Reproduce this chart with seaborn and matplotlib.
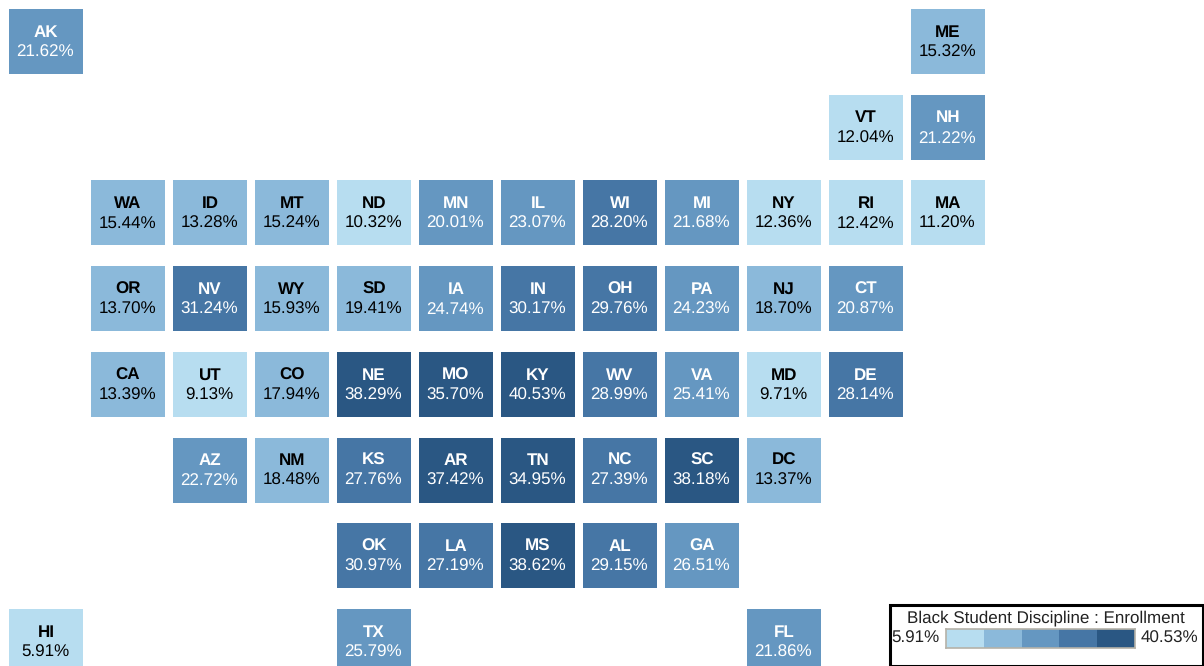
import numpy as np
import pandas as pd
import seaborn as sns
import matplotlib.pyplot as plt
from matplotlib.colors import ListedColormap, BoundaryNorm
from matplotlib.patches import Rectangle

states = ['AK','ME','VT','NH','WA','ID','MT','ND','MN','IL','WI','MI','NY','RI','MA',
          'OR','NV','WY','SD','IA','IN','OH','PA','NJ','CT',
          'CA','UT','CO','NE','MO','KY','WV','VA','MD','DE',
          'AZ','NM','KS','AR','TN','NC','SC','DC',
          'OK','LA','MS','AL','GA','HI','TX','FL']
rates = [21.62,15.32,12.04,21.22,15.44,13.28,15.24,10.32,20.01,23.07,28.20,21.68,12.36,12.42,11.20,
         13.70,31.24,15.93,19.41,24.74,30.17,29.76,24.23,18.70,20.87,
         13.39,9.13,17.94,38.29,35.70,40.53,28.99,25.41,9.71,28.14,
         22.72,18.48,27.76,37.42,34.95,27.39,38.18,13.37,
         30.97,27.19,38.62,29.15,26.51,5.91,25.79,21.86]
grid_col = [0,11,10,11,1,2,3,4,5,6,7,8,9,10,11,
            1,2,3,4,5,6,7,8,9,10,
            1,2,3,4,5,6,7,8,9,10,
            2,3,4,5,6,7,8,9,
            4,5,6,7,8,0,4,9]
grid_row = [0,0,1,1,2,2,2,2,2,2,2,2,2,2,2,
            3,3,3,3,3,3,3,3,3,3,
            4,4,4,4,4,4,4,4,4,4,
            5,5,5,5,5,5,5,5,
            6,6,6,6,6,7,7,7]
palette = ['#B7DDF0','#8BB9DA','#6597C1','#4676A5','#2A5783']
legend_title = 'Black Student Discipline : Enrollment'

W, H = 1204, 666
plt.rcParams['font.family'] = ['Liberation Sans', 'DejaVu Sans']
plt.rcParams['text.hinting'] = 'no_hinting'
plt.rcParams['text.hinting_factor'] = 1

df = pd.DataFrame({'state': states, 'rate': rates, 'col': grid_col, 'row': grid_row})
table = df.pivot(index='row', columns='col', values='rate')

lo, hi = df['rate'].min(), df['rate'].max()
breaks = np.linspace(lo, hi, 6)
cmap = ListedColormap(palette)
norm = BoundaryNorm(breaks, 5, clip=True)

fig = plt.figure(figsize=(W/100, H/100), dpi=100)

def px_axes(x0, y0, x1, y1):
    return fig.add_axes([x0/W, 1-y1/H, (x1-x0)/W, (y1-y0)/H])

# axes runs past the figure edges, the last row is cut off in the original too
pad = 0.2
ax = px_axes(5-pad*82, -1.35-pad*85.7, 989+pad*82, 684.25+pad*85.7)
sns.heatmap(table, ax=ax, cmap=cmap, norm=norm, cbar=False, square=False,
            xticklabels=False, yticklabels=False)
ax.set_xlim(-pad, 12+pad)
ax.set_ylim(8+pad, -pad)
ax.set_xlabel('')
ax.set_ylabel('')

# gaps between tiles are wider between rows than between columns
ax.vlines(np.arange(0, 13), -pad, 8+pad, color='white', lw=8*0.72)
gap = 10.35/85.7
for y in range(9):
    ax.axhspan(y-gap, y+gap, color='white', lw=0)

for _, r in df.iterrows():
    c = 'white' if r['rate'] >= breaks[2] else 'black'
    ax.text(r['col']+0.5, r['row']+0.51-0.117, r['state'], ha='center', va='center',
            fontsize=12, fontweight='bold', color=c)
    ax.text(r['col']+0.49, r['row']+0.51+0.117, '%.2f%%' % r['rate'], ha='center', va='center',
            fontsize=12.2, color=c)

# legend box
fig.add_artist(Rectangle((889.5/W, 1-665.5/H), 313/W, 61/H, transform=fig.transFigure,
                         facecolor='white', edgecolor='black', lw=2.2))
fig.text(1046/W, 1-618.5/H, legend_title, ha='center', va='center', fontsize=11.9, color='#222222')
fig.text(940/W, 1-638.5/H, '%.2f%%' % lo, ha='right', va='center', fontsize=12.2, color='#222222')
fig.text(1141/W, 1-638.5/H, '%.2f%%' % hi, ha='left', va='center', fontsize=12.2, color='#222222')

lax = px_axes(946, 629, 1135, 648)
lax.set_zorder(5)
mids = (breaks[:-1] + breaks[1:]) / 2
sns.heatmap(mids.reshape(1, -1), ax=lax, cmap=cmap, norm=norm, cbar=False,
            xticklabels=False, yticklabels=False)
for s in lax.spines.values():
    s.set_visible(True)
    s.set_color('#B5B2A8')
    s.set_linewidth(1.2)

plt.savefig('out.png', dpi=100)
